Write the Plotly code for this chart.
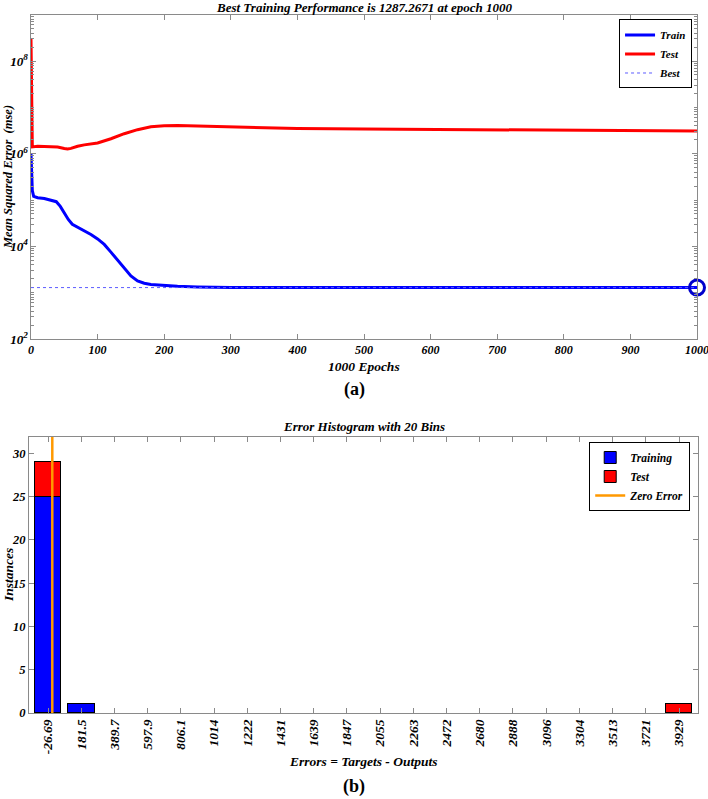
import plotly.graph_objects as go

# ---- performance curve (a) ----
train_epochs = [0, 1, 2, 4, 10, 20, 30, 38, 44, 50, 56, 62, 70, 80, 90, 100, 110, 120,
                130, 140, 150, 160, 170, 180, 200, 220, 250, 300, 400, 600, 800, 1000]
train_mse = [1.0e6, 4.0e5, 1.6e5, 1.2e5, 1.12e5, 1.08e5, 1.0e5, 9.2e4, 7.3e4, 5.2e4,
             3.8e4, 3.0e4, 2.6e4, 2.15e4, 1.8e4, 1.45e4, 1.1e4, 7.5e3, 5.0e3, 3.3e3,
             2.3e3, 1.8e3, 1.6e3, 1.5e3, 1.42e3, 1.37e3, 1.33e3, 1.30e3, 1.295e3,
             1.29e3, 1.288e3, 1287.27]

test_epochs = [0, 2, 10, 20, 30, 40, 50, 55, 60, 70, 80, 100, 120, 140, 160, 180, 200,
               220, 250, 300, 400, 500, 600, 700, 800, 900, 1000]
test_mse = [3.0e8, 1.4e6, 1.45e6, 1.45e6, 1.42e6, 1.40e6, 1.30e6, 1.26e6, 1.30e6,
            1.45e6, 1.55e6, 1.7e6, 2.1e6, 2.7e6, 3.3e6, 3.8e6, 4.0e6, 4.05e6, 3.95e6,
            3.8e6, 3.5e6, 3.4e6, 3.35e6, 3.3e6, 3.25e6, 3.2e6, 3.1e6]

best_epoch = 1000
best_perf = 1287.2671
epoch_span = [0, 1000]

# ---- error histogram (b) ----
bin_centers = [-26.69, 181.5, 389.7, 597.9, 806.1, 1014, 1222, 1431, 1639, 1847, 2055,
               2263, 2472, 2680, 2888, 3096, 3304, 3513, 3721, 3929]
bin_labels = ["-26.69", "181.5", "389.7", "597.9", "806.1", "1014", "1222", "1431",
              "1639", "1847", "2055", "2263", "2472", "2680", "2888", "3096", "3304",
              "3513", "3721", "3929"]
train_counts = [25, 1, 0, 0, 0, 0, 0, 0, 0, 0, 0, 0, 0, 0, 0, 0, 0, 0, 0, 0]
test_counts = [4, 0, 0, 0, 0, 0, 0, 0, 0, 0, 0, 0, 0, 0, 0, 0, 0, 0, 0, 1]
zero_error = 0.0
hist_ymax = 31.9

W, H = 708, 799
SERIF = "Liberation Serif, Times New Roman, serif"
BI = {"family": SERIF, "weight": "bold", "style": "italic", "color": "black"}


def py(v):
    return 1 - v / H


def font(size, **kw):
    f = dict(BI, size=size)
    f.update(kw)
    return f


fig = go.Figure()

fig.add_trace(go.Scatter(x=train_epochs, y=train_mse, mode="lines", name="Train",
                         line={"color": "#0000ff", "width": 3}, xaxis="x", yaxis="y",
                         legend="legend"))
fig.add_trace(go.Scatter(x=test_epochs, y=test_mse, mode="lines", name="Test",
                         line={"color": "#ff0000", "width": 3}, xaxis="x", yaxis="y",
                         legend="legend"))
fig.add_trace(go.Scatter(x=epoch_span, y=[best_perf, best_perf], mode="lines", name="Best",
                         line={"color": "#5c5cff", "width": 1, "dash": "dot"},
                         xaxis="x", yaxis="y", legend="legend"))
fig.add_trace(go.Scatter(x=[best_epoch], y=[best_perf], mode="markers", showlegend=False,
                         marker={"symbol": "circle-open", "size": 15, "color": "#0000cc",
                                 "line": {"width": 3, "color": "#0000cc"}},
                         xaxis="x", yaxis="y", cliponaxis=False))

bar_w = 0.8 * (bin_centers[1] - bin_centers[0])


def outline(counts):
    return [1 if c else 0 for c in counts]


fig.add_trace(go.Bar(x=bin_centers, y=train_counts, name="Training", width=bar_w,
                     marker={"color": "#0000ff",
                             "line": {"color": "black", "width": outline(train_counts)}},
                     xaxis="x2", yaxis="y2", legend="legend2"))
fig.add_trace(go.Bar(x=bin_centers, y=test_counts, name="Test", width=bar_w,
                     marker={"color": "#ff0000",
                             "line": {"color": "black", "width": outline(test_counts)}},
                     xaxis="x2", yaxis="y2", legend="legend2"))
fig.add_trace(go.Scatter(x=[zero_error, zero_error], y=[0, hist_ymax], mode="lines",
                         name="Zero Error", line={"color": "#ff9900", "width": 2.5},
                         xaxis="x2", yaxis="y2", legend="legend2"))

axis_common = dict(showline=True, linecolor="#8a8a8a", linewidth=1, mirror="ticks",
                   ticks="inside", tickcolor="#8a8a8a", ticklen=5, showgrid=False,
                   zeroline=False, tickfont=font(12.5), automargin=False,
                   ticklabeloverflow="allow")

dom_x1 = [31 / W, 697 / W]
dom_y1 = [py(339), py(14.7)]
dom_x2 = [29 / W, 698 / W]
dom_y2 = [py(713), py(437)]

fig.update_layout(
    width=W, height=H, paper_bgcolor="white", plot_bgcolor="white",
    margin={"l": 0, "r": 0, "t": 0, "b": 0},
    barmode="stack", bargap=0,
    xaxis=dict(axis_common, domain=dom_x1, anchor="y", range=[0, 1000], dtick=100,
               tickfont=font(12)),
    yaxis=dict(axis_common, domain=dom_y1, anchor="x", type="log", range=[2, 9],
               dtick=2, exponentformat="power", tickfont=font(10.5),
               minor={"dtick": "D1", "ticks": "inside", "ticklen": 3,
                      "tickcolor": "#8a8a8a", "showgrid": False}),
    xaxis2=dict(axis_common, domain=dom_x2, anchor="y2", range=[-146, 4048],
                tickmode="array", tickvals=bin_centers, ticktext=bin_labels,
                tickangle=-90, tickfont=font(13.5)),
    yaxis2=dict(axis_common, domain=dom_y2, anchor="x2", range=[0, hist_ymax], dtick=5),
    legend=dict(x=dom_x1[1] - 0.007, y=dom_y1[1] - 0.006, xanchor="right", yanchor="top",
                bgcolor="white", bordercolor="black", borderwidth=1, font=font(11),
                itemwidth=30, tracegroupgap=0, traceorder="normal"),
    legend2=dict(x=dom_x2[1] - 0.011, y=py(442), xanchor="right", yanchor="top",
                 bgcolor="white", bordercolor="black", borderwidth=1, font=font(11.5),
                 itemwidth=30, tracegroupgap=0, traceorder="normal"),
)

cx1 = (dom_x1[0] + dom_x1[1]) / 2
cx2 = (dom_x2[0] + dom_x2[1]) / 2
notes = [
    ("Best Training Performance is 1287.2671 at epoch 1000", cx1, 7, font(13), 0),
    ("1000 Epochs", cx1, 366, font(13.5), 0),
    ("(a)", 0.5, 389, {"family": SERIF, "size": 18, "weight": "bold", "color": "black"}, 0),
    ("Mean Squared Error  (mse)", 8 / W, 177, font(12.5), -90),
    ("Error Histogram with 20 Bins", cx2, 426, font(13), 0),
    ("Instances", 8 / W, 575, font(13.5), -90),
    ("Errors = Targets - Outputs", cx2, 761, font(13.5), 0),
    ("(b)", 0.5, 786, {"family": SERIF, "size": 18, "weight": "bold", "color": "black"}, 0),
]
for text, x, y, f, ang in notes:
    fig.add_annotation(text=text, x=x, y=py(y), xref="paper", yref="paper",
                       showarrow=False, font=f, textangle=ang,
                       xanchor="center", yanchor="middle")

fig.write_html("out.html", config={"displayModeBar": False},
               post_script="document.body.style.margin='0';")
